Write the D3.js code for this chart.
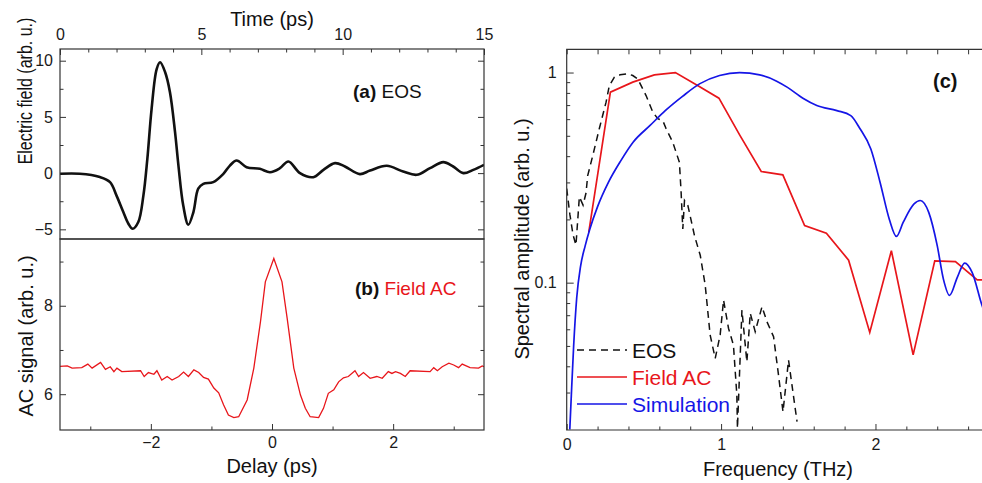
<!DOCTYPE html>
<html>
<head>
<meta charset="utf-8">
<script src="https://cdn.jsdelivr.net/npm/d3@7"></script>
<style>
  body { margin: 0; background: #fff; }
  svg { display: block; font-family: "Liberation Sans", Arial, sans-serif; }
  .tick text { font-size: 16px; fill: #1a1a1a; }
  .tick line { stroke: #333; stroke-width: 1; }
  .frame { fill: none; stroke: #333; stroke-width: 1.2; }
  .label { font-size: 20px; fill: #111; }
</style>
</head>
<body>
<div id="chart"></div>
<script>
// (a) EOS time trace
const timePs = [0, 0.7, 1.41, 1.77, 2.0, 2.24, 2.42, 2.57, 2.77, 2.95, 3.09, 3.24, 3.42, 3.54, 3.72, 3.89, 4.07, 4.19, 4.36, 4.54, 4.72, 4.89, 5.07, 5.42, 5.78, 6.01, 6.25, 6.6, 7.07, 7.43, 7.78, 8.08, 8.49, 8.96, 9.32, 9.73, 10.08, 10.61, 10.97, 11.56, 12.14, 12.62, 13.09, 13.56, 13.91, 14.27, 14.62, 15];
const fieldEOS = [-0.06, -0.06, -0.35, -0.8, -2.0, -3.46, -4.5, -4.95, -4.35, -2.0, 1.27, 5.7, 9.26, 9.86, 8.97, 7.2, 3.64, 0.67, -2.88, -4.59, -3.46, -1.39, -0.95, -0.8, -0.06, 0.67, 1.12, 0.53, 0.38, 0.08, 0.44, 1.03, 0, -0.36, 0.29, 0.89, 0.59, -0.09, 0.23, 0.65, 0.14, -0.15, 0.44, 0.98, 0.59, 0, 0.29, 0.74];

// (b) field autocorrelation
const delayPs = [-3.5, -3.38, -3.3, -3.14, -3.04, -2.97, -2.83, -2.75, -2.67, -2.61, -2.56, -2.48, -2.17, -2.11, -2.04, -1.95, -1.9, -1.82, -1.73, -1.65, -1.54, -1.46, -1.38, -1.29, -1.21, -1.13, -1.05, -0.96, -0.88, -0.8, -0.72, -0.63, -0.55, -0.41, -0.3, -0.19, -0.11, 0.03, 0.165, 0.25, 0.36, 0.47, 0.55, 0.63, 0.77, 0.85, 0.93, 1.02, 1.1, 1.18, 1.26, 1.37, 1.43, 1.51, 1.62, 1.73, 1.82, 1.92, 1.98, 2.04, 2.12, 2.2, 2.28, 2.61, 2.67, 2.73, 2.81, 2.92, 3.0, 3.08, 3.14, 3.27, 3.41, 3.47, 3.5];
const acSignal = [6.63, 6.64, 6.59, 6.6, 6.68, 6.59, 6.72, 6.56, 6.62, 6.51, 6.59, 6.51, 6.53, 6.4, 6.49, 6.45, 6.53, 6.32, 6.4, 6.32, 6.4, 6.5, 6.4, 6.55, 6.49, 6.38, 6.34, 6.14, 6.03, 5.76, 5.53, 5.47, 5.49, 5.87, 6.59, 7.64, 8.54, 9.07, 8.54, 7.72, 6.59, 5.98, 5.68, 5.49, 5.47, 5.68, 6.02, 6.1, 6.28, 6.37, 6.4, 6.53, 6.4, 6.49, 6.36, 6.4, 6.36, 6.51, 6.47, 6.51, 6.47, 6.4, 6.53, 6.51, 6.6, 6.53, 6.62, 6.7, 6.66, 6.6, 6.68, 6.6, 6.59, 6.64, 6.62];

// (c) spectra
const eosFreq = [0, 0.021, 0.041, 0.06, 0.082, 0.106, 0.125, 0.136, 0.169, 0.211, 0.255, 0.276, 0.309, 0.346, 0.396, 0.428, 0.46, 0.514, 0.558, 0.59, 0.623, 0.644, 0.687, 0.73, 0.741, 0.752, 0.763, 0.785, 0.828, 0.865, 0.897, 0.929, 0.962, 0.994, 1.016, 1.048, 1.08, 1.102, 1.106, 1.135, 1.167, 1.189, 1.221, 1.265, 1.297, 1.34, 1.372, 1.401, 1.437, 1.459, 1.492];
const eosAmp = [0.28, 0.21, 0.169, 0.151, 0.256, 0.234, 0.267, 0.323, 0.403, 0.54, 0.723, 0.867, 0.951, 0.975, 0.986, 0.968, 0.933, 0.777, 0.648, 0.603, 0.589, 0.54, 0.466, 0.374, 0.27, 0.18, 0.246, 0.233, 0.167, 0.135, 0.0975, 0.0564, 0.0436, 0.0564, 0.0826, 0.0607, 0.0505, 0.0292, 0.0203, 0.074, 0.042, 0.0715, 0.0585, 0.0769, 0.0652, 0.0553, 0.0363, 0.0243, 0.0428, 0.0326, 0.0218];
const acFreq = [0.143, 0.283, 0.428, 0.568, 0.704, 0.845, 0.986, 1.12, 1.26, 1.40, 1.541, 1.682, 1.826, 1.963, 2.103, 2.244, 2.384, 2.518, 2.659, 2.8];
const acAmp = [0.174, 0.807, 0.9, 0.975, 1.0, 0.869, 0.755, 0.505, 0.338, 0.326, 0.187, 0.172, 0.128, 0.058, 0.142, 0.0453, 0.127, 0.126, 0.103, 0.103];
const simFreq = [0.02, 0.028, 0.045, 0.065, 0.09, 0.12, 0.15, 0.2, 0.27, 0.35, 0.43, 0.54, 0.64, 0.75, 0.86, 0.99, 1.12, 1.25, 1.36, 1.43, 1.53, 1.62, 1.75, 1.84, 1.9, 1.97, 2.03, 2.09, 2.136, 2.18, 2.25, 2.29, 2.345, 2.4, 2.44, 2.48, 2.53, 2.578, 2.626, 2.69, 2.72];
const simAmp = [0.02, 0.027, 0.05, 0.085, 0.12, 0.15, 0.18, 0.23, 0.3, 0.38, 0.466, 0.56, 0.66, 0.77, 0.883, 0.968, 1.0, 0.975, 0.91, 0.85, 0.755, 0.697, 0.659, 0.624, 0.54, 0.433, 0.3, 0.2, 0.166, 0.194, 0.237, 0.246, 0.216, 0.15, 0.104, 0.087, 0.106, 0.124, 0.112, 0.078, 0.068];

const red = "#e8161b", blue = "#1515e6";
const intFmt = d3.format("d");

const svg = d3.select("#chart").append("svg")
    .attr("width", 982)
    .attr("height", 483);

const defs = svg.append("defs");
function clip(id, x0, y0, x1, y1) {
    defs.append("clipPath").attr("id", id)
        .append("rect").attr("x", x0).attr("y", y0).attr("width", x1 - x0).attr("height", y1 - y0);
    return `url(#${id})`;
}

// minor ticks only, no labels
function minor(axis, values) {
    return axis.tickValues(values).tickFormat("").tickSizeInner(-3.5).tickSizeOuter(0);
}
function plain(g) { g.select(".domain").remove(); }

// ---------- panel (a) ----------
const xT = d3.scaleLinear().domain([0, 15]).range([60, 484]);
const yE = d3.scaleLinear().domain([-5.86, 11.04]).range([239, 49]);

svg.append("g").attr("transform", "translate(0,49)")
    .call(d3.axisTop(xT).tickValues([0, 5, 10, 15]).tickSizeInner(-6).tickSizeOuter(0).tickPadding(9).tickFormat(intFmt))
    .call(plain);
svg.append("g").attr("transform", "translate(0,49)")
    .call(minor(d3.axisTop(xT), d3.range(1, 15).filter(d => d % 5)))
    .call(plain);
svg.append("g").attr("transform", "translate(60,0)")
    .call(d3.axisLeft(yE).tickValues([-5, 0, 5, 10]).tickSizeInner(-6).tickSizeOuter(0).tickPadding(7).tickFormat(intFmt))
    .call(plain);
svg.append("g").attr("transform", "translate(60,0)")
    .call(minor(d3.axisLeft(yE), [-2.5, 2.5, 7.5]))
    .call(plain);
svg.append("g").attr("transform", "translate(484,0)")
    .call(d3.axisRight(yE).tickValues([-5, 0, 5, 10]).tickSizeInner(-6).tickSizeOuter(0).tickFormat(""))
    .call(plain);
svg.append("g").attr("transform", "translate(484,0)")
    .call(minor(d3.axisRight(yE), [-2.5, 2.5, 7.5]))
    .call(plain);

svg.append("path")
    .datum(timePs.map((t, i) => [t, fieldEOS[i]]))
    .attr("clip-path", clip("ca", 60, 49, 484, 239))
    .attr("fill", "none")
    .attr("stroke", "#111")
    .attr("stroke-width", 2.6)
    .attr("stroke-linejoin", "round")
    .attr("d", d3.line().x(d => xT(d[0])).y(d => yE(d[1])).curve(d3.curveCatmullRom.alpha(0.5)));

svg.append("rect").attr("class", "frame").attr("x", 60).attr("y", 49).attr("width", 424).attr("height", 190);

svg.append("text").attr("class", "label")
    .attr("x", 272).attr("y", 26).attr("text-anchor", "middle").text("Time (ps)");
// this label is drawn squeezed along its length in the original
svg.append("text").attr("class", "label")
    .attr("transform", "translate(32,91) rotate(-90) scale(0.8,1)")
    .attr("text-anchor", "middle")
    .text("Electric field (arb. u.)");

const ta = svg.append("text").attr("class", "label").attr("x", 353).attr("y", 98).style("font-size", "19px");
ta.append("tspan").attr("font-weight", "bold").text("(a)");
ta.append("tspan").text(" EOS");

// ---------- panel (b) ----------
const xD = d3.scaleLinear().domain([-3.5, 3.5]).range([60, 484]);
const yA = d3.scaleLinear().domain([5.19, 9.51]).range([430, 239]);

svg.append("g").attr("transform", "translate(0,430)")
    .call(d3.axisBottom(xD).tickValues([-2, 0, 2]).tickSizeInner(-6).tickSizeOuter(0).tickPadding(7).tickFormat(intFmt))
    .call(plain);
svg.append("g").attr("transform", "translate(0,430)")
    .call(minor(d3.axisBottom(xD), [-3, -1, 1, 3]))
    .call(plain);
svg.append("g").attr("transform", "translate(60,0)")
    .call(d3.axisLeft(yA).tickValues([6, 8]).tickSizeInner(-6).tickSizeOuter(0).tickPadding(7).tickFormat(intFmt))
    .call(plain);
svg.append("g").attr("transform", "translate(60,0)")
    .call(minor(d3.axisLeft(yA), [7, 9]))
    .call(plain);
svg.append("g").attr("transform", "translate(484,0)")
    .call(d3.axisRight(yA).tickValues([6, 8]).tickSizeInner(-6).tickSizeOuter(0).tickFormat(""))
    .call(plain);
svg.append("g").attr("transform", "translate(484,0)")
    .call(minor(d3.axisRight(yA), [7, 9]))
    .call(plain);

svg.append("path")
    .datum(delayPs.map((t, i) => [t, acSignal[i]]))
    .attr("clip-path", clip("cb", 60, 239, 484, 430))
    .attr("fill", "none")
    .attr("stroke", red)
    .attr("stroke-width", 1.3)
    .attr("d", d3.line().x(d => xD(d[0])).y(d => yA(d[1])));

svg.append("rect").attr("class", "frame").attr("x", 60).attr("y", 239).attr("width", 424).attr("height", 191);

svg.append("text").attr("class", "label")
    .attr("x", 272).attr("y", 473).attr("text-anchor", "middle").text("Delay (ps)");
svg.append("text").attr("class", "label")
    .attr("transform", "translate(33,336) rotate(-90)")
    .attr("text-anchor", "middle")
    .text("AC signal (arb. u.)");

const tb = svg.append("text").attr("class", "label").attr("x", 355).attr("y", 295).style("font-size", "19px");
tb.append("tspan").attr("font-weight", "bold").text("(b)");
tb.append("tspan").attr("fill", red).text(" Field AC");

// ---------- panel (c) ----------
const xF = d3.scaleLinear().domain([0, 2.69]).range([566.7, 982]);
const yS = d3.scaleLog().domain([0.0199, 1.29]).range([430, 49.3]);

const fTicks = d3.range(0, 2.8, 0.2).map(d => +d.toFixed(1));
svg.append("g").attr("transform", "translate(0,430)")
    .call(d3.axisBottom(xF).tickValues([0, 1, 2]).tickSizeInner(-6).tickSizeOuter(0).tickPadding(9).tickFormat(intFmt))
    .call(plain);
svg.append("g").attr("transform", "translate(0,430)")
    .call(minor(d3.axisBottom(xF), fTicks.filter(d => d % 1)))
    .call(plain);
svg.append("g").attr("transform", "translate(0,49.3)")
    .call(d3.axisTop(xF).tickValues(fTicks).tickFormat("").tickSizeInner(-5).tickSizeOuter(0))
    .call(plain);

const logMinor = [0.03, 0.04, 0.05, 0.06, 0.07, 0.08, 0.09, 0.2, 0.3, 0.4, 0.5, 0.6, 0.7, 0.8, 0.9];
svg.append("g").attr("transform", "translate(566.7,0)")
    .call(d3.axisLeft(yS).tickValues([0.1, 1]).tickSizeInner(-7).tickSizeOuter(0).tickPadding(10).tickFormat(d => String(d)))
    .call(plain);
svg.append("g").attr("transform", "translate(566.7,0)")
    .call(minor(d3.axisLeft(yS), logMinor))
    .call(plain);

const cc = clip("cc", 566.7, 49.3, 982, 430);
const lineC = d3.line().x(d => xF(d[0])).y(d => yS(d[1]));

svg.append("path")
    .datum(eosFreq.map((f, i) => [f, eosAmp[i]]))
    .attr("clip-path", cc)
    .attr("fill", "none")
    .attr("stroke", "#111")
    .attr("stroke-width", 1.5)
    .attr("stroke-dasharray", "7,5")
    .attr("d", lineC);

svg.append("path")
    .datum(acFreq.map((f, i) => [f, acAmp[i]]))
    .attr("clip-path", cc)
    .attr("fill", "none")
    .attr("stroke", red)
    .attr("stroke-width", 1.7)
    .attr("d", lineC);

svg.append("path")
    .datum(simFreq.map((f, i) => [f, simAmp[i]]))
    .attr("clip-path", cc)
    .attr("fill", "none")
    .attr("stroke", blue)
    .attr("stroke-width", 1.7)
    .attr("d", lineC.curve(d3.curveMonotoneX));

svg.append("path").attr("class", "frame")
    .attr("d", "M982,49.3H566.7V430H982");

svg.append("text").attr("class", "label")
    .attr("x", 778).attr("y", 476).attr("text-anchor", "middle").text("Frequency (THz)");
svg.append("text").attr("class", "label")
    .attr("transform", "translate(529,239) rotate(-90)")
    .attr("text-anchor", "middle")
    .text("Spectral amplitude (arb. u.)");
svg.append("text").attr("class", "label")
    .attr("x", 933).attr("y", 88).attr("font-weight", "bold").text("(c)");

// legend
const legend = [
    {name: "EOS", color: "#111", text: "#111", dash: "7,5", y: 350},
    {name: "Field AC", color: red, text: red, dash: null, y: 377},
    {name: "Simulation", color: blue, text: blue, dash: null, y: 404}
];
const lg = svg.append("g").selectAll("g").data(legend).join("g");
lg.append("line")
    .attr("x1", 577).attr("x2", 627)
    .attr("y1", d => d.y).attr("y2", d => d.y)
    .attr("stroke", d => d.color)
    .attr("stroke-width", 1.5)
    .attr("stroke-dasharray", d => d.dash);
lg.append("text")
    .attr("x", 632).attr("y", d => d.y + 7.5)
    .attr("fill", d => d.text)
    .style("font-size", "21px")
    .text(d => d.name);
</script>
</body>
</html>
